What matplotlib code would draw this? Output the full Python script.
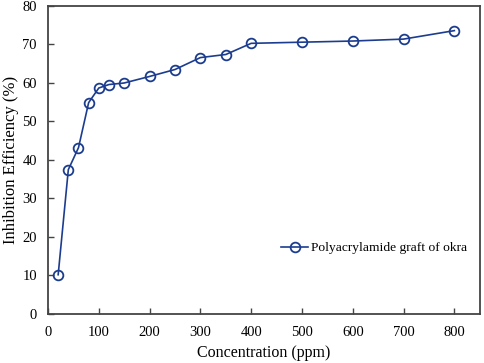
import matplotlib
matplotlib.use("Agg")
import matplotlib.pyplot as plt

conc = [20, 40, 60, 80, 100, 120, 150, 200, 250, 300, 350, 400, 500, 600, 700, 800]
efficiency = [10.2, 37.5, 43.2, 54.9, 58.7, 59.6, 60.0, 61.7, 63.5, 66.6, 67.4, 70.3, 70.6, 70.9, 71.4, 73.6]
xticks = list(range(0, 900, 100))
yticks = list(range(0, 90, 10))

plt.rcParams['font.family'] = ['Liberation Serif', 'DejaVu Serif']

fig = plt.figure(figsize=(4.84, 3.63), dpi=100)
ax = fig.add_axes([0.0992, 0.135, 0.892, 0.8485])
ax.plot(conc, efficiency, color='#1c3d8f', lw=1.2, marker='o', ms=7,
        mfc='none', mec='#1c3d8f', mew=1.3, label='Polyacrylamide graft of okra')
ax.set_xlim(0, 850)
ax.set_ylim(0, 80)
ax.set_xticks(xticks)
ax.set_yticks(yticks)
ax.tick_params(direction='in', length=4, width=1, color='#444444',
               labelsize=10.5)
ax.tick_params(axis='x', pad=9)
ax.tick_params(axis='y', pad=8)
for s in ax.spines.values():
    s.set_color('#444444')
    s.set_linewidth(1.3)
ax.set_xlabel('Concentration (ppm)', fontsize=11.5, labelpad=4)
ax.set_ylabel('Inhibition Efficiency (%)', fontsize=12)
ax.yaxis.set_label_coords(-0.068, 0.5)
ax.legend(loc='center left', bbox_to_anchor=(0.54, 0.214), frameon=False,
          borderaxespad=0, borderpad=0, handlelength=2.0,
          handletextpad=0.25, fontsize=9.7)
fig.savefig('out.png', dpi=100)
